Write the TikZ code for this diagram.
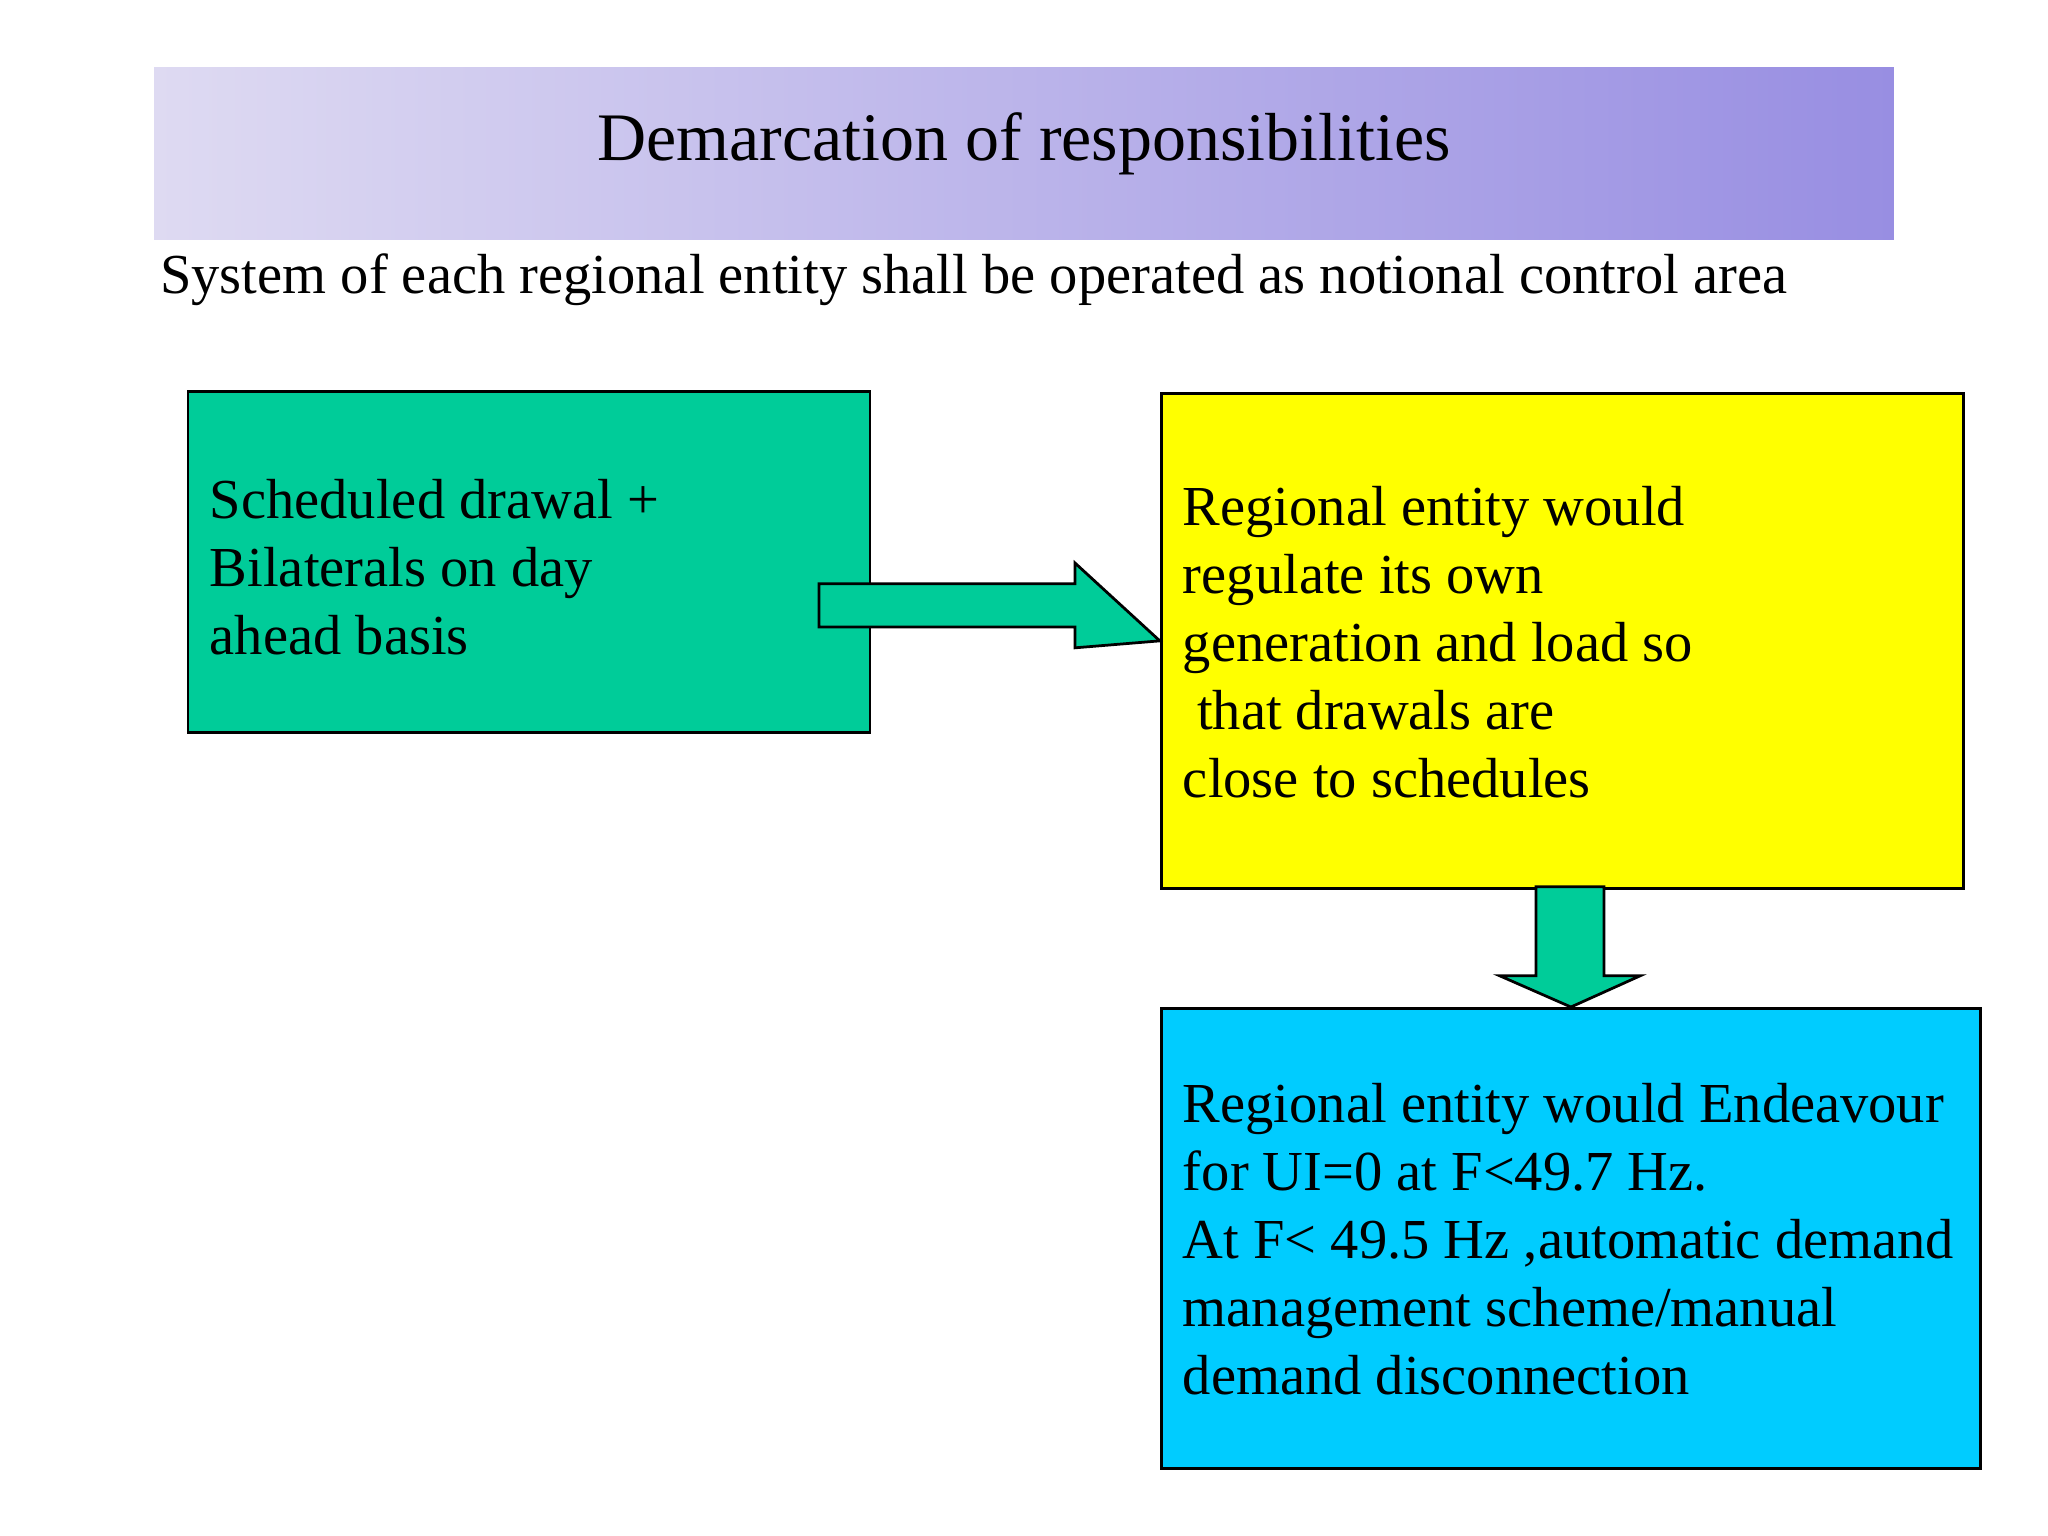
\documentclass[tikz,border=0pt]{standalone}
\usepackage{fontspec}
\setmainfont{Liberation Serif}
\definecolor{grn}{RGB}{0,204,153}
\definecolor{ylw}{RGB}{255,255,0}
\definecolor{cyn}{RGB}{0,204,255}
\definecolor{bandL}{RGB}{222,218,242}
\definecolor{bandR}{RGB}{152,142,226}
\begin{document}
\begin{tikzpicture}[x=0.01cm,y=-0.01cm,
  box/.style={draw=black,line width=0.6pt},
  txt/.style={anchor=west,inner sep=0pt,font=\fontsize{12.3}{14.8}\selectfont,align=left},
  arr/.style={draw=black,fill=grn,line width=0.6pt}]
\useasboundingbox (0,0) rectangle (1568,1176);
\shade[left color=bandL,right color=bandR] (118,52) rectangle (1450,183);
\node[inner sep=0pt,font=\fontsize{14.8}{17}\selectfont] (title) at (784,110) {Demarcation of responsibilities};
\node[anchor=west,inner sep=0pt,font=\fontsize{12.3}{14}\selectfont] (sub) at (122,214) {System of each regional entity shall be operated as notional control area};
\draw[box,fill=grn] (144,300) rectangle (666,561) coordinate (gbr);
\node[box,fill=ylw,minimum width=6.14cm,minimum height=3.79cm,anchor=north west] (yb) at (888,300) {};
\node[box,fill=cyn,minimum width=6.27cm,minimum height=3.52cm,anchor=north west] (cb) at (888,771) {};
\node[txt] (gt) at (160,434) {Scheduled drawal +\\Bilaterals on day\\ahead basis};
\node[txt] (yt) at (905,492) {Regional entity would\\regulate its own\\generation and load so\\\ that drawals are\\close to schedules};
\node[txt] (ct) at (905,949) {Regional entity would Endeavour\\for UI=0 at F<49.7 Hz.\\At F< 49.5 Hz ,automatic demand\\management scheme/manual\\demand disconnection};
\draw[arr] (627,447) -- (823,447) -- (823,431) -- (yb.west) -- (823,496) -- (823,480) -- (627,480) -- cycle;
\draw[arr] (1176,679) -- (1228,679) -- (1228,747) -- (1256,747) -- (cb.north) -- (1148,747) -- (1176,747) -- cycle;
\end{tikzpicture}
\end{document}
